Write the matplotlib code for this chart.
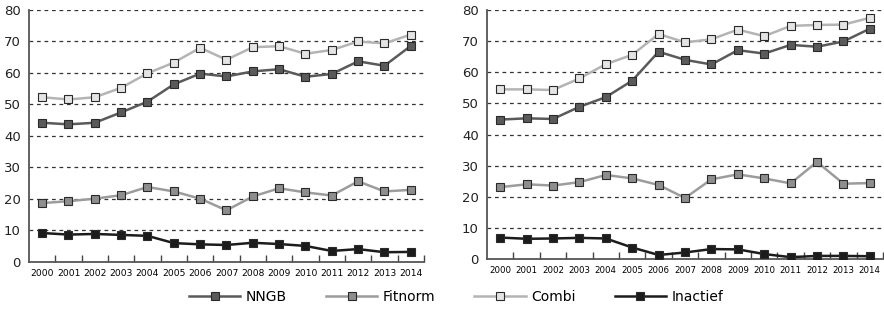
import numpy as np
import matplotlib.pyplot as plt

years = [str(y) for y in range(2000, 2015)]

# left panel
nngb_l = [44.2, 43.7, 44.2, 47.5, 50.9, 56.4, 59.8, 58.9, 60.5, 61.2, 58.8, 59.7, 63.7, 62.3, 68.6]
fitnorm_l = [18.7, 19.3, 20.1, 21.2, 23.8, 22.4, 20.1, 16.4, 20.8, 23.4, 22.1, 21.1, 25.6, 22.4, 22.9]
combi_l = [52.3, 51.6, 52.3, 55.3, 59.9, 63.3, 68.0, 64.2, 68.2, 68.5, 66.1, 67.3, 70.0, 69.4, 72.2]
inactief_l = [9.2, 8.7, 8.9, 8.6, 8.3, 6.0, 5.6, 5.4, 6.1, 5.7, 5.1, 3.5, 4.1, 3.1, 3.2]

# right panel
nngb_r = [44.8, 45.2, 45.0, 48.9, 52.0, 57.3, 66.6, 64.0, 62.5, 67.1, 66.0, 68.8, 68.2, 69.9, 74.0]
fitnorm_r = [23.1, 24.0, 23.6, 24.7, 27.0, 25.9, 23.8, 19.6, 25.6, 27.2, 25.9, 24.3, 31.2, 24.2, 24.4]
combi_r = [54.5, 54.5, 54.3, 58.0, 62.6, 65.6, 72.3, 69.6, 70.6, 73.7, 71.6, 74.9, 75.2, 75.3, 77.5]
inactief_r = [6.9, 6.5, 6.6, 6.8, 6.6, 3.7, 1.3, 2.1, 3.2, 3.1, 1.6, 0.6, 1.0, 1.0, 0.9]

series_names = ['NNGB', 'Fitnorm', 'Combi', 'Inactief']
line_colors = ['#5a5a5a', '#9c9c9c', '#b4b4b4', '#1c1c1c']
face_colors = ['#5a5a5a', '#8e8e8e', '#e4e4e4', '#1c1c1c']
edge_color = '#2a2a2a'

fig = plt.figure(figsize=(8.84, 3.19), dpi=100)
ax1 = fig.add_axes([0.0328, 0.1787, 0.4468, 0.79])
ax2 = fig.add_axes([0.5509, 0.188, 0.448, 0.7806])

x = np.arange(len(years))

for ax, data, xfs in [(ax1, [nngb_l, fitnorm_l, combi_l, inactief_l], 6.6),
                      (ax2, [nngb_r, fitnorm_r, combi_r, inactief_r], 6.2)]:
    for yv in range(10, 81, 10):
        ax.axhline(yv, color='#333333', lw=0.9, ls=(0, (3, 3)), zorder=1)
    for vals, name, lc, fc in zip(data, series_names, line_colors, face_colors):
        ax.plot(x, vals, color=lc, lw=1.8, marker='s', markersize=5.2,
                markerfacecolor=fc, markeredgecolor=edge_color, markeredgewidth=0.8,
                label=name, zorder=3)
    ax.set_xlim(-0.5, 14.5)
    ax.set_ylim(0, 80)
    ax.set_yticks(range(0, 81, 10))
    ax.set_xticks(x)
    ax.set_xticklabels(years, fontsize=xfs)
    ax.tick_params(axis='x', length=0, pad=5)
    ax.tick_params(axis='y', length=0, labelsize=9.5, pad=6, colors='#222222')
    # category boundary ticks pointing up
    ax.set_xticks(np.arange(0.5, 14.6, 1), minor=True)
    ax.tick_params(axis='x', which='minor', direction='in', length=5, width=1, color='#444444')
    for s in ['top', 'right']:
        ax.spines[s].set_visible(False)
    for s in ['left', 'bottom']:
        ax.spines[s].set_color('#555555')
        ax.spines[s].set_linewidth(1.3)

handles, labels = ax1.get_legend_handles_labels()
fig.legend(handles, labels, loc='center', bbox_to_anchor=(0.516, 0.07), ncol=4,
           frameon=False, fontsize=10, handlelength=3.7, columnspacing=2.8,
           handletextpad=0.4)

fig.savefig('out.png', dpi=100)
